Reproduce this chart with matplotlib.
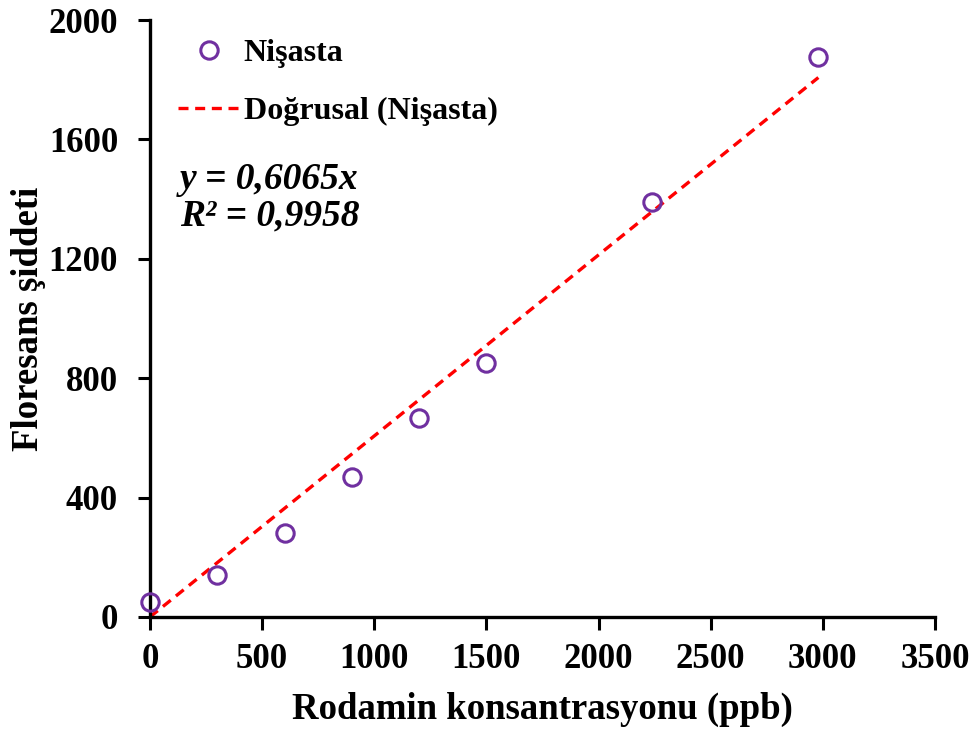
import numpy as np
import matplotlib
matplotlib.use("Agg")
import matplotlib.pyplot as plt
from matplotlib.lines import Line2D

plt.rcParams['font.family'] = ['Liberation Serif', 'DejaVu Serif']
plt.rcParams['font.weight'] = 'bold'

# rhodamine concentration (ppb) vs fluorescence intensity, starch sample
konsantrasyon = [0, 300, 600, 900, 1200, 1500, 2240, 2980]
floresans = [50, 140, 280, 468, 665, 850, 1390, 1875]

egim = 0.6065
r_kare = 0.9958

x_ticks = [0, 500, 1000, 1500, 2000, 2500, 3000, 3500]
y_ticks = [0, 400, 800, 1200, 1600, 2000]

fig = plt.figure(figsize=(9.77, 7.31), dpi=100)
ax = fig.add_axes([0.1535, 0.156, 0.8035, 0.8166])

mor = '#7030A0'
ax.plot(konsantrasyon, floresans, linestyle='none', marker='o', markersize=12.5,
        markerfacecolor='none', markeredgecolor=mor, markeredgewidth=2.2, clip_on=False, zorder=3)

x_fit = np.array([0, max(konsantrasyon)])
ax.plot(x_fit, egim * x_fit, color='red', linestyle=(0, (3, 2)), linewidth=2.4, zorder=2)

ax.set_xlim(0, 3500)
ax.set_ylim(0, 2000)
ax.set_xticks(x_ticks)
ax.set_yticks(y_ticks)
ax.tick_params(axis='both', direction='out', length=9, width=2.2, labelsize=25)
ax.tick_params(axis='x', pad=10)
ax.tick_params(axis='y', pad=14)
for s in ['top', 'right']:
    ax.spines[s].set_visible(False)
for s in ['left', 'bottom']:
    ax.spines[s].set_linewidth(2.4)

ax.set_xlabel('Rodamin konsantrasyonu (ppb)', fontsize=26.5, fontweight='bold', labelpad=11)
ax.set_ylabel('Floresans şiddeti', fontsize=26.5, fontweight='bold', labelpad=2)

handles = [
    Line2D([], [], linestyle='none', marker='o', markersize=12.5, markerfacecolor='none',
           markeredgecolor=mor, markeredgewidth=2.2),
    Line2D([], [], color='red', linestyle=(0, (3, 2)), linewidth=2.4),
]
leg = ax.legend(handles, ['Nişasta', 'Doğrusal (Nişasta)'], loc='upper left',
                bbox_to_anchor=(0.036, 0.969), frameon=False, fontsize=23,
                borderaxespad=0, borderpad=0,
                handlelength=1.95, handletextpad=0.1, labelspacing=0.9)
for t in leg.get_texts():
    t.set_fontweight('bold')

ax.text(0.038, 0.733, f'y = {egim:.4f}x'.replace('.', ','), transform=ax.transAxes,
        fontsize=27, fontweight='bold', fontstyle='italic', va='center')
ax.text(0.038, 0.671, f'R² = {r_kare:.4f}'.replace('.', ','), transform=ax.transAxes,
        fontsize=27, fontweight='bold', fontstyle='italic', va='center')

fig.savefig('out.png', dpi=100)
